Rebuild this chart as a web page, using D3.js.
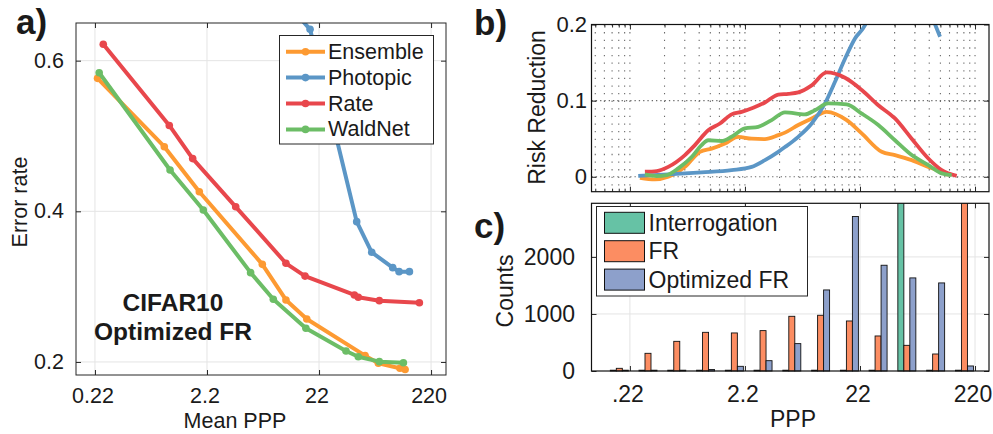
<!DOCTYPE html>
<html><head><meta charset="utf-8">
<script src="https://cdn.jsdelivr.net/npm/d3@7/dist/d3.min.js"></script>
<style>
html,body{margin:0;padding:0;background:#fff;}
svg{display:block;}
text{font-family:"Liberation Sans",Arial,Helvetica,sans-serif;fill:#1a1a1a;}
</style></head><body>
<svg id="fig" width="993" height="434"></svg>
<script>
// ================= DATA =================
const pppTicks = [0.22, 2.2, 22, 220];
const pppTickLabelsA = ["0.22", "2.2", "22", "220"];
const pppTickLabelsC = [".22", "2.2", "22", "220"];
const errTicks = [0.2, 0.4, 0.6];
const errTickLabels = ["0.2", "0.4", "0.6"];
const rrTicks = [0, 0.1, 0.2];
const rrTickLabels = ["0", "0.1", "0.2"];
const countTicks = [0, 1000, 2000];
const countTickLabels = ["0", "1000", "2000"];

const seriesNames = ["Ensemble", "Photopic", "Rate", "WaldNet"];
const seriesColors = ["#fd9a32", "#5b96c6", "#e8474c", "#6cbd66"];

// panel a: error rate vs mean PPP
const ensembleX = [0.232, 0.915, 1.879, 6.86, 11.15, 17.1, 56.7, 74.5, 116, 129];
const ensembleY = [0.5765, 0.4858, 0.426, 0.3296, 0.2823, 0.257, 0.2084, 0.1982, 0.1916, 0.190];
const photopicX = [14, 18.3, 47.7, 65, 100, 114, 141];
const photopicY = [0.661, 0.6416, 0.3863, 0.3456, 0.3252, 0.3199, 0.3199];
const rateX = [0.261, 1.014, 1.639, 3.97, 11.15, 16.5, 45.5, 49.3, 76, 173];
const rateY = [0.6217, 0.514, 0.470, 0.406, 0.331, 0.314, 0.289, 0.286, 0.2814, 0.2787];
const waldnetX = [0.240, 1.03, 2.04, 5.39, 8.6, 16.8, 38.3, 49.3, 76, 124.6];
const waldnetY = [0.584, 0.4549, 0.4018, 0.3186, 0.2832, 0.2447, 0.2146, 0.207, 0.2004, 0.199];

// panel b: risk reduction vs PPP
const ensembleRRx = [0.269, 0.363, 0.474, 0.662, 0.894, 1.129, 1.474, 1.924, 2.516, 3.284, 4.287, 4.902, 6.397, 8.364, 11.29, 16.86, 22.77, 33.98, 44.33, 61.95, 86.39, 112.9, 128.9];
const ensembleRRy = [-0.0013, -0.0035, 0, 0.013, 0.0328, 0.037, 0.0438, 0.0525, 0.050, 0.0495, 0.0547, 0.058, 0.068, 0.0766, 0.0853, 0.0744, 0.057, 0.0328, 0.0285, 0.0219, 0.013, 0.0066, 0.0022];
const photopicRRx = [0.260, 0.474, 0.924, 1.685, 2.516, 3.284, 4.287, 4.902, 6.397, 8.364, 10.92, 13.34, 16.30, 19.91, 24.31, 29.7, 40.1, 54.2, 73.1, 93.0, 109.2];
const photopicRRy = [0.0013, 0.0031, 0.0058, 0.0088, 0.013, 0.0219, 0.0328, 0.039, 0.0525, 0.070, 0.0963, 0.1247, 0.155, 0.1816, 0.199, 0.235, 0.26, 0.27, 0.25, 0.21, 0.184];
const rateRRx = [0.297, 0.376, 0.474, 0.662, 0.808, 1.055, 1.334, 1.685, 2.059, 2.598, 3.284, 4.287, 5.236, 6.397, 8.364, 11.29, 16.30, 22.77, 31.74, 44.33, 61.95, 86.39, 112.9, 152.5];
const rateRRy = [0.0066, 0.0075, 0.013, 0.0285, 0.0416, 0.061, 0.070, 0.082, 0.0853, 0.0906, 0.0976, 0.108, 0.109, 0.1108, 0.120, 0.137, 0.130, 0.114, 0.094, 0.0766, 0.050, 0.024, 0.0088, 0.0013];
const waldnetRRx = [0.297, 0.376, 0.459, 0.579, 0.757, 0.924, 1.055, 1.380, 1.685, 2.2, 2.871, 3.755, 4.902, 7.315, 8.936, 11.66, 16.86, 22.77, 31.74, 44.33, 61.95, 86.39, 112.9, 138.0];
const waldnetRRy = [0.0031, 0.0009, 0.0022, 0.011, 0.026, 0.0416, 0.048, 0.047, 0.0525, 0.0635, 0.0656, 0.0744, 0.0845, 0.082, 0.0875, 0.0963, 0.095, 0.083, 0.068, 0.048, 0.0285, 0.0154, 0.0044, 0.0022];

// panel c: histogram counts
const binCenters = [0.178, 0.316, 0.562, 1, 1.78, 3.16, 5.62, 10, 17.8, 31.6, 56.2, 100, 178];
const histNames = ["Interrogation", "FR", "Optimized FR"];
const histColors = ["#66c2a5", "#fc8d62", "#8da0cb"];
const interrogationCounts = [0, 0, 0, 0, 0, 0, 0, 0, 0, 0, 10000, 0, 0];
const frCounts = [47, 310, 520, 678, 667, 708, 959, 977, 877, 614, 450, 298, 3500];
const optFrCounts = [0, 0, 0, 25, 82, 181, 480, 1421, 2708, 1854, 1632, 1544, 88];

// ================= DRAW =================
const svg = d3.select("#fig");
const AX = "#262626";
const zip = (xs, ys) => xs.map((x, i) => [x, ys[i]]);

function addTicks(g, gen, tr) {
  const a = g.append("g").attr("transform", tr).call(gen);
  a.select(".domain").remove();
  a.selectAll("text").remove();
  a.selectAll("line").attr("stroke", AX).attr("stroke-width", 1);
  return a;
}
const minorMult = [2, 3, 4, 5, 6, 7, 8, 9];
function minorLogTicks(dom) {
  const out = [];
  [0.022, 0.22, 2.2, 22, 220].forEach(b => minorMult.forEach(m => {
    const v = b * m; if (v > dom[0] && v < dom[1]) out.push(v);
  }));
  return out;
}

// ---------- Panel a ----------
const A = {l: 76, r: 446, t: 23, b: 375};
const xA = d3.scaleLog().domain([0.149, 299]).range([A.l, A.r]);
const yA = d3.scaleLinear().domain([0.1827, 0.650]).range([A.b, A.t]);
const gA = svg.append("g");
svg.append("clipPath").attr("id", "clipA").append("rect")
  .attr("x", A.l).attr("y", A.t).attr("width", A.r - A.l).attr("height", A.b - A.t);

gA.selectAll(".gxa").data(pppTicks).join("line")
  .attr("x1", d => xA(d)).attr("x2", d => xA(d)).attr("y1", A.t).attr("y2", A.b)
  .attr("stroke", "#e4e4e4").attr("stroke-width", 1);
gA.selectAll(".gya").data(errTicks).join("line")
  .attr("x1", A.l).attr("x2", A.r).attr("y1", d => yA(d)).attr("y2", d => yA(d))
  .attr("stroke", "#e4e4e4").attr("stroke-width", 1);

addTicks(gA, d3.axisBottom(xA).tickValues(pppTicks).tickSize(-5), `translate(0,${A.b})`);
addTicks(gA, d3.axisTop(xA).tickValues(pppTicks).tickSize(-5), `translate(0,${A.t})`);
addTicks(gA, d3.axisLeft(yA).tickValues(errTicks).tickSize(-5), `translate(${A.l},0)`);
addTicks(gA, d3.axisRight(yA).tickValues(errTicks).tickSize(-5), `translate(${A.r},0)`);

const seriesA = [zip(ensembleX, ensembleY), zip(photopicX, photopicY), zip(rateX, rateY), zip(waldnetX, waldnetY)];
const lineA = d3.line().x(d => xA(d[0])).y(d => yA(d[1]));
const plotA = gA.append("g").attr("clip-path", "url(#clipA)");
seriesA.forEach((s, i) => {
  plotA.append("path").datum(s).attr("d", lineA).attr("fill", "none")
    .attr("stroke", seriesColors[i]).attr("stroke-width", 4).attr("stroke-linejoin", "round").attr("stroke-linecap", "round");
  plotA.selectAll(null).data(s).join("circle").attr("cx", d => xA(d[0])).attr("cy", d => yA(d[1]))
    .attr("r", 3.8).attr("fill", seriesColors[i]);
});
gA.append("rect").attr("x", A.l).attr("y", A.t).attr("width", A.r - A.l).attr("height", A.b - A.t)
  .attr("fill", "none").attr("stroke", AX).attr("stroke-width", 1);

gA.selectAll(".xla").data(pppTicks).join("text").attr("x", d => xA(d) - 2).attr("y", 403)
  .attr("text-anchor", "middle").attr("font-size", 21.5).text((d, i) => pppTickLabelsA[i]);
gA.selectAll(".yla").data(errTicks).join("text").attr("x", 64).attr("y", d => yA(d))
  .attr("text-anchor", "end").attr("dominant-baseline", "central").attr("font-size", 21.5).text((d, i) => errTickLabels[i]);
gA.append("text").attr("x", 235).attr("y", 428).attr("text-anchor", "middle").attr("font-size", 21.5).text("Mean PPP");
gA.append("text").attr("transform", "translate(26.5,202) rotate(-90)").attr("text-anchor", "middle").attr("font-size", 21.5).text("Error rate");
gA.append("text").attr("x", 173).attr("y", 310.5).attr("text-anchor", "middle").attr("font-size", 24.5).attr("font-weight", "bold").text("CIFAR10");
gA.append("text").attr("x", 173).attr("y", 339.5).attr("text-anchor", "middle").attr("font-size", 24.5).attr("font-weight", "bold").text("Optimized FR");

// legend a
const legA = gA.append("g");
legA.append("rect").attr("x", 279.5).attr("y", 35.5).attr("width", 154).attr("height", 108.5)
  .attr("fill", "#fff").attr("stroke", AX).attr("stroke-width", 1);
seriesNames.forEach((n, i) => {
  const yy = 51.7 + i * 25.9;
  legA.append("line").attr("x1", 286).attr("x2", 325).attr("y1", yy).attr("y2", yy)
    .attr("stroke", seriesColors[i]).attr("stroke-width", 4);
  legA.append("circle").attr("cx", 305.5).attr("cy", yy).attr("r", 3.8).attr("fill", seriesColors[i]);
  legA.append("text").attr("x", 328).attr("y", yy).attr("dominant-baseline", "central").attr("font-size", 21.5).text(n);
});

// ---------- Panel b ----------
const B = {l: 591.5, r: 989, t: 24.5, b: 191.7};
const xB = d3.scaleLog().domain([0.102, 291]).range([B.l, B.r]);
const yB = d3.scaleLinear().domain([-0.0196, 0.2]).range([B.b, B.t]);
const gB = svg.append("g");
svg.append("clipPath").attr("id", "clipB").append("rect")
  .attr("x", B.l).attr("y", B.t).attr("width", B.r - B.l).attr("height", B.b - B.t);
const minorB = minorLogTicks(xB.domain());
const allVB = pppTicks.concat(minorB);
const period = yB(0) - yB(0.01);
gB.selectAll(".gxb").data(allVB).join("line")
  .attr("x1", d => xB(d)).attr("x2", d => xB(d)).attr("y1", B.t).attr("y2", B.b)
  .attr("stroke", "#6a6a6a").attr("stroke-width", 1.1).attr("stroke-dasharray", `1.3,${(period - 1.3).toFixed(2)}`);
gB.selectAll(".gyb").data(rrTicks).join("line")
  .attr("x1", B.l).attr("x2", B.r).attr("y1", d => yB(d)).attr("y2", d => yB(d))
  .attr("stroke", "#6a6a6a").attr("stroke-width", 1.1).attr("stroke-dasharray", "1.3,3");

addTicks(gB, d3.axisBottom(xB).tickValues(pppTicks).tickSize(-5), `translate(0,${B.b})`);
addTicks(gB, d3.axisBottom(xB).tickValues(minorB).tickSize(-3), `translate(0,${B.b})`);
addTicks(gB, d3.axisTop(xB).tickValues(pppTicks).tickSize(-5), `translate(0,${B.t})`);
addTicks(gB, d3.axisTop(xB).tickValues(minorB).tickSize(-3), `translate(0,${B.t})`);
addTicks(gB, d3.axisLeft(yB).tickValues(rrTicks).tickSize(-5), `translate(${B.l},0)`);
addTicks(gB, d3.axisRight(yB).tickValues(rrTicks).tickSize(-5), `translate(${B.r},0)`);

const seriesB = [zip(ensembleRRx, ensembleRRy), zip(photopicRRx, photopicRRy), zip(rateRRx, rateRRy), zip(waldnetRRx, waldnetRRy)];
const lineB = d3.line().x(d => xB(d[0])).y(d => yB(d[1])).curve(d3.curveMonotoneX);
const plotB = gB.append("g").attr("clip-path", "url(#clipB)");
seriesB.forEach((s, i) => {
  plotB.append("path").datum(s).attr("d", lineB).attr("fill", "none")
    .attr("stroke", seriesColors[i]).attr("stroke-width", 3.8).attr("stroke-linejoin", "round");
});
gB.append("rect").attr("x", B.l).attr("y", B.t).attr("width", B.r - B.l).attr("height", B.b - B.t)
  .attr("fill", "none").attr("stroke", "#111").attr("stroke-width", 1.2);
gB.selectAll(".ylb").data(rrTicks).join("text").attr("x", 587).attr("y", d => yB(d))
  .attr("text-anchor", "end").attr("dominant-baseline", "central").attr("font-size", 22).text((d, i) => rrTickLabels[i]);
gB.append("text").attr("transform", "translate(545,107.5) rotate(-90)").attr("text-anchor", "middle").attr("font-size", 23).text("Risk Reduction");

// ---------- Panel c ----------
const C = {l: 591.5, r: 989, t: 203.3, b: 371};
const xC = d3.scaleLog().domain(xB.domain()).range([C.l, C.r]);
const yC = d3.scaleLinear().domain([0, 2940]).range([C.b, C.t]);
const gC = svg.append("g");
svg.append("clipPath").attr("id", "clipC").append("rect")
  .attr("x", C.l).attr("y", C.t).attr("width", C.r - C.l).attr("height", C.b - C.t + 2);
gC.selectAll(".gxc").data(pppTicks).join("line")
  .attr("x1", d => xC(d)).attr("x2", d => xC(d)).attr("y1", C.t).attr("y2", C.b)
  .attr("stroke", "#e4e4e4").attr("stroke-width", 1);
gC.selectAll(".gyc").data(countTicks.slice(1)).join("line")
  .attr("x1", C.l).attr("x2", C.r).attr("y1", d => yC(d)).attr("y2", d => yC(d))
  .attr("stroke", "#e4e4e4").attr("stroke-width", 1);

const barW = 6;
const histSeries = [interrogationCounts, frCounts, optFrCounts];
const plotC = gC.append("g").attr("clip-path", "url(#clipC)");
histSeries.forEach((vals, s) => {
  plotC.selectAll(null).data(vals).join("rect")
    .attr("x", (d, i) => xC(binCenters[i]) + (s - 1) * barW - barW / 2)
    .attr("width", barW)
    .attr("y", d => Math.min(yC(d), C.b - 0.8))
    .attr("height", d => Math.max(C.b - yC(d), 0.8))
    .attr("fill", histColors[s]).attr("stroke", "#111").attr("stroke-width", 0.9);
});
addTicks(gC, d3.axisBottom(xC).tickValues(pppTicks).tickSize(-5), `translate(0,${C.b})`);
addTicks(gC, d3.axisTop(xC).tickValues(pppTicks).tickSize(-5), `translate(0,${C.t})`);
addTicks(gC, d3.axisLeft(yC).tickValues(countTicks).tickSize(-5), `translate(${C.l},0)`);
addTicks(gC, d3.axisRight(yC).tickValues(countTicks).tickSize(-5), `translate(${C.r},0)`);
gC.append("rect").attr("x", C.l).attr("y", C.t).attr("width", C.r - C.l).attr("height", C.b - C.t)
  .attr("fill", "none").attr("stroke", "#111").attr("stroke-width", 1.2);

// legend c
const legC = gC.append("g");
legC.append("rect").attr("x", 596.5).attr("y", 206.5).attr("width", 211).attr("height", 89.5)
  .attr("fill", "#fff").attr("stroke", AX).attr("stroke-width", 1);
histNames.forEach((n, i) => {
  const yy = 222.8 + i * 28.4;
  legC.append("rect").attr("x", 604.5).attr("y", yy - 10.5).attr("width", 40).attr("height", 21)
    .attr("fill", histColors[i]).attr("stroke", "#111").attr("stroke-width", 1);
  legC.append("text").attr("x", 648.5).attr("y", yy).attr("dominant-baseline", "central").attr("font-size", 23).text(n);
});

gC.selectAll(".xlc").data(pppTicks).join("text").attr("x", d => xC(d) - 2).attr("y", 401.5)
  .attr("text-anchor", "middle").attr("font-size", 23).text((d, i) => pppTickLabelsC[i]);
gC.selectAll(".ylc").data(countTicks).join("text").attr("x", 575).attr("y", d => yC(d))
  .attr("text-anchor", "end").attr("dominant-baseline", "central").attr("font-size", 23).text((d, i) => countTickLabels[i]);
gC.append("text").attr("x", 793).attr("y", 426.5).attr("text-anchor", "middle").attr("font-size", 23).text("PPP");
gC.append("text").attr("transform", "translate(513,291) rotate(-90)").attr("text-anchor", "middle").attr("font-size", 23).text("Counts");

// panel letters
svg.append("text").attr("x", 16).attr("y", 34).attr("font-size", 35).attr("font-weight", "bold").text("a)");
svg.append("text").attr("x", 474).attr("y", 35).attr("font-size", 35).attr("font-weight", "bold").text("b)");
svg.append("text").attr("x", 474).attr("y", 238).attr("font-size", 35).attr("font-weight", "bold").text("c)");
</script>
</body></html>
